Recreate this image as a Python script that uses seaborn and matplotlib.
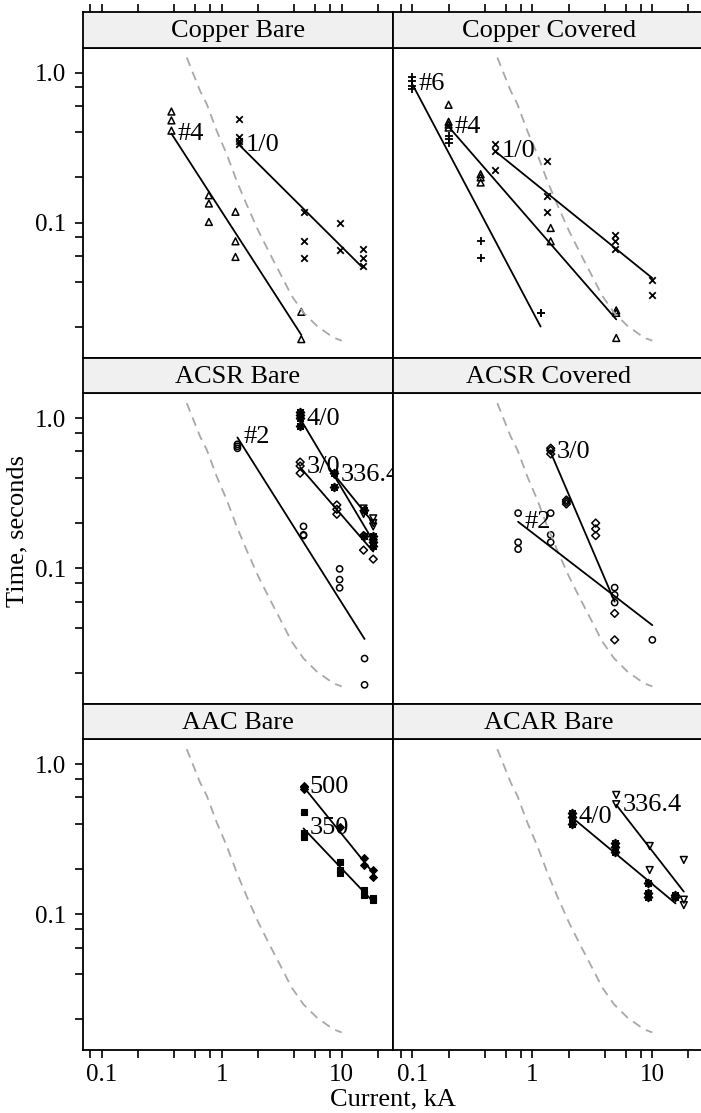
"""
Tempo de fusao x corrente por tipo de condutor (paineis log-log).
"""

import numpy as np
import pandas as pd
import matplotlib
matplotlib.use("Agg")
import matplotlib.pyplot as plt
import seaborn as sns

# --- dados (corrente em kA, tempo em s) ---
panels = ["Copper Bare", "Copper Covered", "ACSR Bare",
          "ACSR Covered", "AAC Bare", "ACAR Bare"]

cu_bare_4_kA = [0.38, 0.38, 0.38, 0.78, 0.78, 0.78, 1.3, 1.3, 1.3, 4.6, 4.6]
cu_bare_4_s = [0.55, 0.48, 0.41, 0.152, 0.134, 0.101, 0.118, 0.075, 0.059, 0.0254, 0.0167]
cu_bare_10_kA = [1.39, 1.39, 1.39, 1.39, 4.8, 4.8, 4.8, 9.6, 9.6, 15, 15, 15]
cu_bare_10_s = [0.49, 0.37, 0.35, 0.336, 0.117, 0.075, 0.058, 0.10, 0.066, 0.067, 0.058, 0.051]

cu_cov_6_kA = [0.1, 0.1, 0.1, 0.1, 0.2, 0.2, 0.2, 0.37, 0.37, 1.17, 1.17]
cu_cov_6_s = [0.93, 0.88, 0.82, 0.78, 0.38, 0.36, 0.34, 0.075, 0.058, 0.025, 0.025]
cu_cov_4_kA = [0.2, 0.2, 0.2, 0.2, 0.37, 0.37, 0.37, 1.42, 1.42, 5.0, 5.0, 5.0]
cu_cov_4_s = [0.61, 0.47, 0.45, 0.43, 0.21, 0.20, 0.185, 0.092, 0.075, 0.026, 0.025, 0.017]
cu_cov_10_kA = [0.49, 0.49, 0.49, 1.33, 1.33, 1.33, 4.88, 4.88, 4.88, 10, 10]
cu_cov_10_s = [0.336, 0.30, 0.223, 0.256, 0.15, 0.117, 0.083, 0.075, 0.067, 0.0417, 0.0331]

acsr_bare_2_kA = [1.35, 1.35, 1.35, 4.8, 4.8, 4.8, 9.6, 9.6, 9.6, 15.5, 15.5]
acsr_bare_2_s = [0.67, 0.65, 0.63, 0.19, 0.167, 0.165, 0.099, 0.084, 0.074, 0.025, 0.0167]
acsr_bare_30_kA = [4.5, 4.5, 4.5, 9.1, 9.1, 9.1, 15.2, 15.2, 18.3, 18.3]
acsr_bare_30_s = [0.51, 0.48, 0.43, 0.264, 0.247, 0.229, 0.165, 0.132, 0.155, 0.115]
acsr_bare_40_kA = [4.5, 4.5, 4.5, 4.5, 8.7, 8.7, 15.2, 15.2, 18.3, 18.3, 18.3]
acsr_bare_40_s = [1.1, 1.05, 1.0, 0.89, 0.43, 0.35, 0.245, 0.165, 0.165, 0.15, 0.14]
acsr_bare_336_kA = [8.7, 15.2, 15.2, 18.3, 18.3, 18.3]
acsr_bare_336_s = [0.42, 0.25, 0.23, 0.215, 0.2, 0.19]

acsr_cov_2_kA = [0.76, 0.76, 0.76, 1.42, 1.42, 1.42, 4.85, 4.85, 4.85, 10]
acsr_cov_2_s = [0.233, 0.149, 0.134, 0.233, 0.167, 0.149, 0.0743, 0.0664, 0.059, 0.0333]
acsr_cov_30_kA = [1.42, 1.42, 1.42, 1.92, 1.92, 1.92, 3.37, 3.37, 3.37, 4.85, 4.85]
acsr_cov_30_s = [0.631, 0.61, 0.578, 0.285, 0.277, 0.268, 0.2, 0.183, 0.165, 0.05, 0.0333]

aac_350_kA = [4.8, 4.8, 4.8, 9.6, 9.6, 9.6, 15.2, 15.2, 18.2, 18.2]
aac_350_s = [0.479, 0.347, 0.329, 0.222, 0.197, 0.188, 0.145, 0.134, 0.128, 0.125]
aac_500_kA = [4.8, 4.8, 4.8, 9.6, 15.2, 15.2, 18.2, 18.2]
aac_500_s = [0.72, 0.70, 0.68, 0.384, 0.236, 0.213, 0.197, 0.178]

acar_40_kA = [2.13, 2.13, 2.13, 4.88, 4.88, 4.88, 9.25, 9.25, 9.25, 15.6, 15.6]
acar_40_s = [0.471, 0.448, 0.398, 0.30, 0.28, 0.261, 0.161, 0.139, 0.131, 0.134, 0.131]
acar_336_kA = [5.0, 5.0, 9.5, 9.5, 18.3, 18.3, 18.3]
acar_336_s = [0.624, 0.541, 0.285, 0.197, 0.230, 0.125, 0.115]

# curva de dano (tracejada), igual em todos os paineis
damage_kA = [0.51, 0.659, 0.75, 0.908, 1.10, 1.33, 1.61, 2.02, 2.53, 3.16,
             3.83, 4.79, 6.19, 8.51, 10.0]
damage_s = [1.26, 0.755, 0.615, 0.408, 0.285, 0.19, 0.132, 0.0879, 0.0615, 0.0437,
            0.0324, 0.0251, 0.0205, 0.0171, 0.0163]

x_ticks = [0.08, 0.1, 0.2, 0.4, 0.6, 0.8, 1, 2, 4, 6, 8, 10, 20]
x_labels = ["", "0.1", "", "", "", "", "1", "", "", "", "", "10", ""]
y_ticks = [0.02, 0.04, 0.06, 0.08, 0.1, 0.2, 0.4, 0.6, 0.8, 1.0]
y_labels = ["", "", "", "", "0.1", "", "", "", "", "1.0"]


def build_frame():
    groups = [
        ("Copper Bare", "#4", cu_bare_4_kA, cu_bare_4_s),
        ("Copper Bare", "1/0", cu_bare_10_kA, cu_bare_10_s),
        ("Copper Covered", "#6", cu_cov_6_kA, cu_cov_6_s),
        ("Copper Covered", "#4", cu_cov_4_kA, cu_cov_4_s),
        ("Copper Covered", "1/0", cu_cov_10_kA, cu_cov_10_s),
        ("ACSR Bare", "#2", acsr_bare_2_kA, acsr_bare_2_s),
        ("ACSR Bare", "3/0", acsr_bare_30_kA, acsr_bare_30_s),
        ("ACSR Bare", "4/0", acsr_bare_40_kA, acsr_bare_40_s),
        ("ACSR Bare", "336.4", acsr_bare_336_kA, acsr_bare_336_s),
        ("ACSR Covered", "#2", acsr_cov_2_kA, acsr_cov_2_s),
        ("ACSR Covered", "3/0", acsr_cov_30_kA, acsr_cov_30_s),
        ("AAC Bare", "350", aac_350_kA, aac_350_s),
        ("AAC Bare", "500", aac_500_kA, aac_500_s),
        ("ACAR Bare", "4/0", acar_40_kA, acar_40_s),
        ("ACAR Bare", "336.4", acar_336_kA, acar_336_s),
    ]
    rows = []
    for panel, size, cur, tm in groups:
        for i, t in zip(cur, tm):
            rows.append({"panel": panel, "size": size, "current": i, "time": t})
    return pd.DataFrame(rows)


# simbolos por bitola (ordem alfabetica, como no lattice)
MARKERS = {
    "#2": dict(marker="o", facecolor="none", edgecolor="black", linewidth=1.1, s=20),
    "#4": dict(marker="^", facecolor="none", edgecolor="black", linewidth=1.1, s=24),
    "#6": dict(marker="+", color="black", linewidth=1.3, s=40),
    "1/0": dict(marker="x", color="black", linewidth=1.3, s=22),
    "3/0": dict(marker="D", facecolor="none", edgecolor="black", linewidth=1.1, s=16),
    "336.4": dict(marker="v", facecolor="none", edgecolor="black", linewidth=1.1, s=24),
    "350": dict(marker="s", color="black", edgecolor="black", linewidth=0.8, s=16),
    "4/0": dict(marker=(8, 2, 0), color="black", linewidth=1.3, s=30),
    "500": dict(marker="D", color="black", edgecolor="black", linewidth=0.8, s=16),
}

W, H = 701, 1113
FS = 19
TICK_FS = 18
XLIM = (10 ** -1.16, 10 ** 1.43)
YLIM = (10 ** -1.905, 10 ** 0.166)


def rect(x0, y0, x1, y1):
    return [x0 / W, 1 - y1 / H, (x1 - x0) / W, (y1 - y0) / H]


def main():
    df = build_frame()

    sns.set_style("white")
    plt.rcParams["font.family"] = ["Liberation Serif", "DejaVu Serif"]
    plt.rcParams["text.color"] = "black"
    plt.rcParams["axes.labelcolor"] = "black"
    plt.rcParams["axes.linewidth"] = 1.3

    fig = plt.figure(figsize=(W / 100, H / 100), dpi=100)

    col_x = [82.7, 393.3]
    col_w = 310.6
    rows = [(12.3, 47.7, 358.3), (358.3, 393.3, 704.0), (704.0, 739.3, 1050.0)]

    for k, panel in enumerate(panels):
        r, c = divmod(k, 2)
        top, mid, bot = rows[r]
        x0 = col_x[c]

        ax = fig.add_axes(rect(x0, mid, x0 + col_w, bot))
        ax.set_xscale("log")
        ax.set_yscale("log")
        ax.set_xlim(*XLIM)
        ax.set_ylim(*YLIM)

        # curva tracejada
        ax.plot(damage_kA, damage_s, color="#a8a8a8", lw=1.3,
                linestyle=(0, (5, 3.5)))

        sub = df[df["panel"] == panel]
        for size, g in sub.groupby("size", sort=False):
            sns.scatterplot(x=g["current"].values, y=g["time"].values, ax=ax,
                            legend=False, **MARKERS[size])
            lx = np.log10(g["current"].values)
            ly = np.log10(g["time"].values)
            b1, b0 = np.polyfit(lx, ly, 1)
            xs = np.array([lx.min(), lx.max()])
            ys = b0 + b1 * xs
            ax.plot(10 ** xs, 10 ** ys, color="black", lw=1.3)
            ax.annotate(size, xy=(10 ** xs[0], 10 ** ys[0]), xytext=(4.5, 0),
                        textcoords="offset points", ha="left", va="center",
                        fontsize=FS, color="black")

        ax.set_xticks(x_ticks, labels=x_labels)
        ax.set_yticks(y_ticks, labels=y_labels)
        ax.xaxis.set_minor_locator(plt.NullLocator())
        ax.yaxis.set_minor_locator(plt.NullLocator())
        ax.tick_params(direction="out", length=6, width=1.2, labelsize=TICK_FS,
                       colors="black")
        ax.tick_params(axis="x", bottom=(r == 2), labelbottom=(r == 2),
                       top=False, pad=4)
        ax.tick_params(axis="y", left=(c == 0), labelleft=(c == 0),
                       right=(c == 1), labelright=False, pad=6)
        ax.set_xlabel("")
        ax.set_ylabel("")
        for sp in ax.spines.values():
            sp.set_color("black")
            sp.set_linewidth(1.3)

        # faixa com o titulo do painel
        st = fig.add_axes(rect(x0, top, x0 + col_w, mid))
        st.set_facecolor("#f0f0f0")
        st.set_xscale("log")
        st.set_xlim(*XLIM)
        st.set_yticks([])
        st.set_xticks(x_ticks, labels=[""] * len(x_ticks))
        st.xaxis.set_minor_locator(plt.NullLocator())
        st.tick_params(axis="x", direction="out", length=6, width=1.2,
                       bottom=False, top=(r == 0), labelbottom=False,
                       labeltop=False, colors="black")
        for sp in st.spines.values():
            sp.set_color("black")
            sp.set_linewidth(1.3)
        st.text(0.5, 0.47, panel, transform=st.transAxes, ha="center",
                va="center", fontsize=FS, color="black")

    fig.text(17 / W, 1 - 531 / H, "Time, seconds", rotation=90,
             ha="center", va="center", fontsize=FS, color="black")
    fig.text(393 / W, 1 - 1099 / H, "Current, kA", ha="center",
             va="center", fontsize=FS, color="black")

    fig.savefig("out.png", dpi=100)
    plt.close(fig)


if __name__ == "__main__":
    main()
